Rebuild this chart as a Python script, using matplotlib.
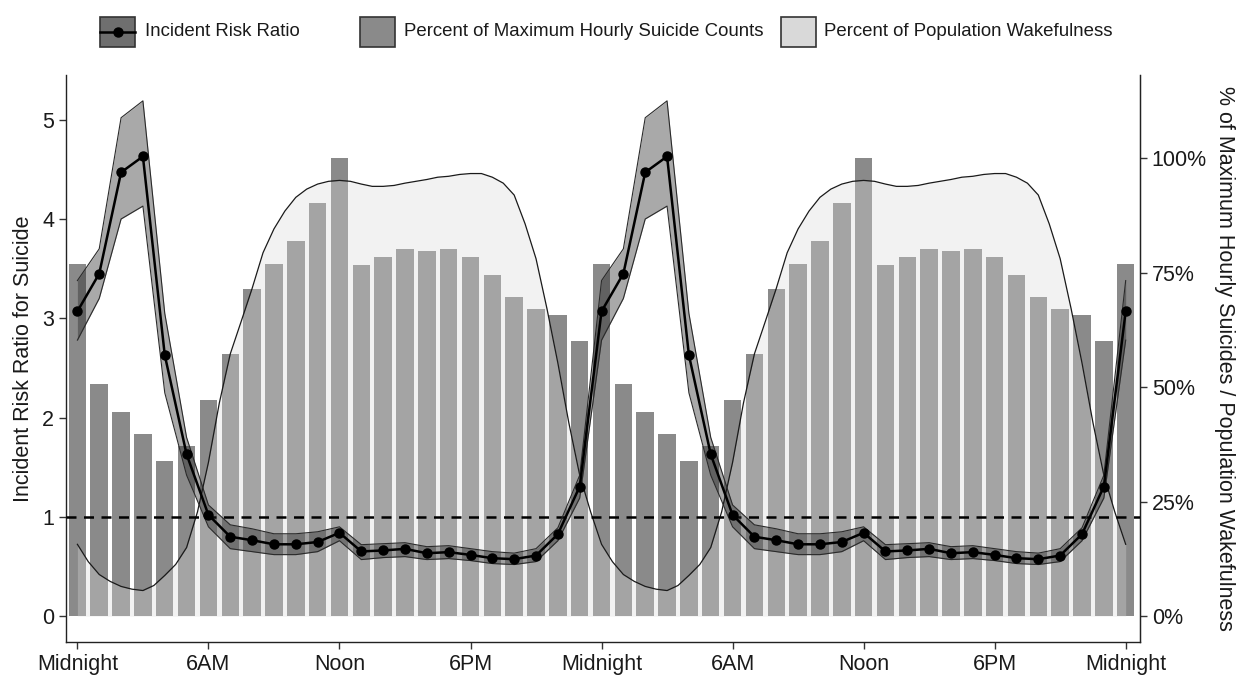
import numpy as np
import matplotlib.pyplot as plt
from matplotlib import font_manager
from matplotlib.patches import Rectangle
from matplotlib.lines import Line2D

# hourly values for one day (midnight to 11PM), repeated for the second day
hours = np.arange(24)
suicide_pct = [77.0, 50.8, 44.7, 39.7, 33.8, 37.1, 47.3, 57.3, 71.4, 77.0, 82.0, 90.2,
               100.0, 76.8, 78.5, 80.3, 79.8, 80.3, 78.5, 74.6, 69.8, 67.2, 65.7, 60.1]
irr = [3.07, 3.45, 4.47, 4.63, 2.63, 1.63, 1.02, 0.80, 0.765, 0.724, 0.724, 0.747,
       0.84, 0.652, 0.662, 0.678, 0.634, 0.645, 0.617, 0.584, 0.574, 0.611, 0.826, 1.306]
irr_lo = [2.78, 3.20, 4.00, 4.13, 2.25, 1.42, 0.90, 0.68, 0.65, 0.62, 0.62, 0.65,
          0.76, 0.57, 0.59, 0.60, 0.57, 0.58, 0.56, 0.53, 0.52, 0.55, 0.76, 1.19]
irr_hi = [3.38, 3.70, 5.02, 5.19, 3.05, 1.80, 1.12, 0.92, 0.88, 0.83, 0.83, 0.85,
          0.90, 0.72, 0.73, 0.74, 0.70, 0.71, 0.68, 0.65, 0.635, 0.68, 0.89, 1.42]

# population wakefulness, every half hour
half_hours = np.arange(48) / 2
wake_pct = [15.7, 11.9, 9.1, 7.6, 6.5, 5.9, 5.6, 6.7, 8.9, 11.3, 15.0, 22.8,
            33.6, 46.6, 57.3, 64.4, 71.6, 79.4, 84.6, 88.5, 91.5, 93.3, 94.4, 95.0,
            95.2, 95.0, 94.4, 93.9, 93.9, 94.1, 94.6, 95.0, 95.4, 95.9, 96.1, 96.5,
            96.7, 96.7, 95.9, 94.6, 92.0, 85.7, 78.1, 67.2, 55.3, 42.3, 30.8, 22.8]

tick_hours = [0, 6, 12, 18, 24, 30, 36, 42, 48]
tick_labels = ['Midnight', '6AM', 'Noon', '6PM', 'Midnight', '6AM', 'Noon', '6PM', 'Midnight']

PCT_SCALE = 4.61  # IRR value that matches 100% on the right axis


def two_days(a):
    a = np.asarray(a, dtype=float)
    return np.concatenate([a, a, a[:1]])


x = np.arange(49)
bars = two_days(suicide_pct) / 100 * PCT_SCALE
irr2 = two_days(irr)
lo2 = two_days(irr_lo)
hi2 = two_days(irr_hi)
xw = np.concatenate([half_hours, half_hours + 24, [48]])
wake2 = two_days(wake_pct) / 100 * PCT_SCALE

plt.rcParams['font.family'] = ['Liberation Sans', 'DejaVu Sans']

fig = plt.figure(figsize=(12.39, 6.79), dpi=100)
ax = fig.add_axes([0.0533, 0.0545, 0.8667, 0.835])

ax.bar(x, bars, width=0.8, color='#8a8a8a', zorder=1)
ax.fill_between(xw, 0, wake2, color='#d9d9d9', alpha=0.34, lw=0, zorder=2)
ax.plot(xw, wake2, color='#1a1a1a', lw=0.9, zorder=3)
ax.axhline(1, color='black', lw=1.8, ls=(0, (4, 3)), zorder=4)

ax.fill_between(x, lo2, hi2, color='#1f1f1f', alpha=0.38, lw=0, zorder=5)
ax.plot(x, lo2, color='#2a2a2a', lw=0.8, zorder=6)
ax.plot(x, hi2, color='#2a2a2a', lw=0.8, zorder=6)
ax.plot(x, irr2, color='black', lw=1.8, marker='o', ms=6.5, zorder=7)

ax.set_xlim(-0.52, 48.65)
ax.set_ylim(-0.26, 5.45)
ax.set_xticks(tick_hours)
ax.set_xticklabels(tick_labels)
ax.set_yticks(range(6))
ax.tick_params(labelsize=15.5, color='#333333', length=5, width=1, labelcolor='#1a1a1a')
ax.spines['top'].set_visible(False)
for s in ['left', 'bottom', 'right']:
    ax.spines[s].set_color('#222222')
    ax.spines[s].set_linewidth(1.0)
ax.set_ylabel('Incident Risk Ratio for Suicide', fontsize=15.5, labelpad=6, color='#1a1a1a')

sec = ax.secondary_yaxis('right', functions=(lambda y: y / PCT_SCALE * 100,
                                             lambda p: p * PCT_SCALE / 100))
sec.set_yticks([0, 25, 50, 75, 100])
sec.set_yticklabels(['0%', '25%', '50%', '75%', '100%'])
sec.tick_params(labelsize=15.5, color='#333333', length=5, width=1, labelcolor='#1a1a1a')
sec.spines['right'].set_color('#222222')
sec.set_ylabel('% of Maximum Hourly Suicides / Population Wakefulness', fontsize=15.5,
               rotation=270, labelpad=20, color='#1a1a1a')

# legend along the top; the original uses a narrow face
installed = {f.name for f in font_manager.fontManager.ttflist}
if 'Liberation Sans Narrow' in installed:
    leg_family, leg_size = ['Liberation Sans Narrow', 'DejaVu Sans'], 14
else:
    leg_family, leg_size = ['Liberation Sans', 'DejaVu Sans'], 13.4

key_y, key_h, key_w = 1 - 47 / 679, 30 / 679, 35 / 1239
entries = [(100, 145, '#6f6f6f', 'Incident Risk Ratio'),
           (360, 404, '#8a8a8a', 'Percent of Maximum Hourly Suicide Counts'),
           (781, 824, '#d9d9d9', 'Percent of Population Wakefulness')]
for kx, tx, col, label in entries:
    fig.add_artist(Rectangle((kx / 1239, key_y), key_w, key_h, facecolor=col,
                             edgecolor='#333333', lw=1.2, transform=fig.transFigure))
    fig.text(tx / 1239, key_y + key_h / 2, label, fontsize=leg_size, family=leg_family,
             va='center', ha='left', color='#1a1a1a')
fig.add_artist(Line2D([100 / 1239, 135 / 1239], [key_y + key_h / 2] * 2, color='black',
                      lw=1.8, transform=fig.transFigure))
fig.add_artist(Line2D([117.5 / 1239], [key_y + key_h / 2], color='black', marker='o',
                      ms=6.5, transform=fig.transFigure))

fig.savefig('out.png', dpi=100)
